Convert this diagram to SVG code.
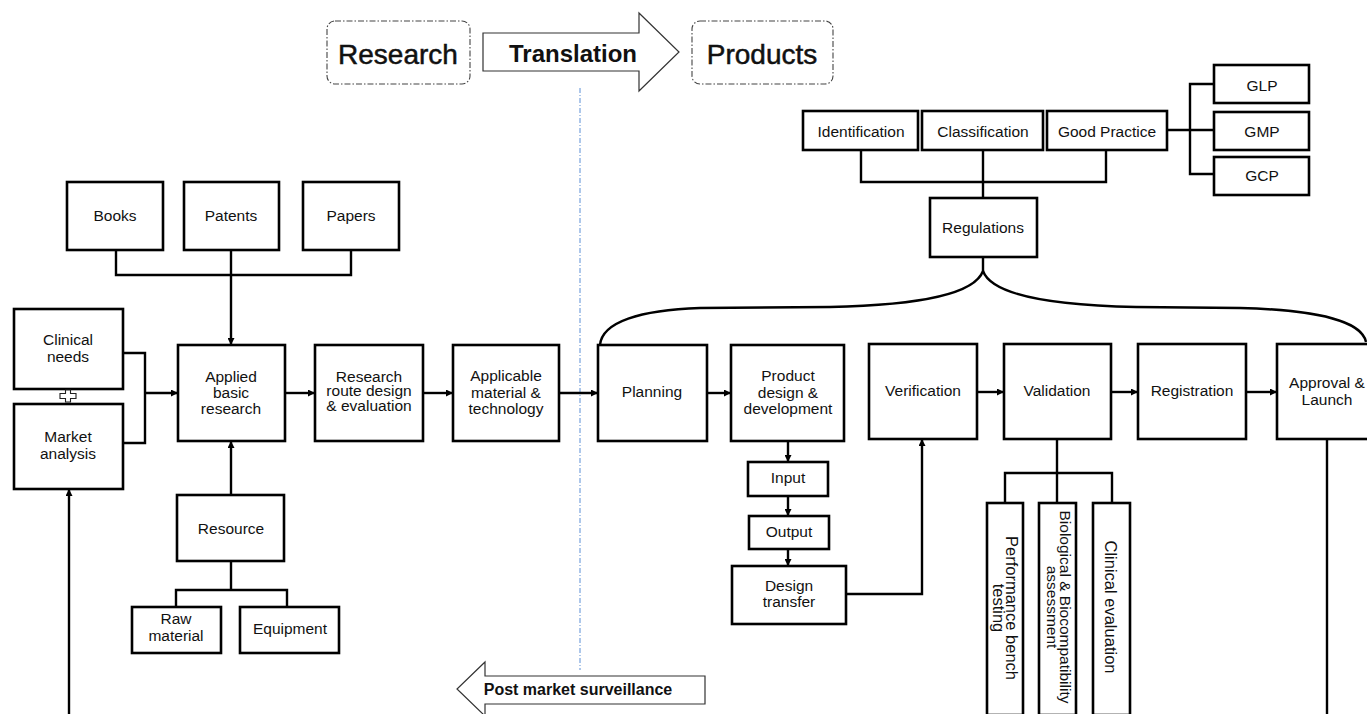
<svg xmlns="http://www.w3.org/2000/svg" width="1367" height="714" viewBox="0 0 1367 714">
<style>
.b{fill:#fff;stroke:#000;stroke-width:2.6}
.t{font-family:"Liberation Sans",Arial,sans-serif;font-size:15.5px;fill:#111;text-anchor:middle}
.tr{font-family:"Liberation Sans",Arial,sans-serif;font-size:16.5px;fill:#111;text-anchor:middle}
.c{fill:none;stroke:#000;stroke-width:2.4}
.hd{font-family:"Liberation Sans",Arial,sans-serif;font-size:28px;fill:#111;stroke:#111;stroke-width:0.5;text-anchor:middle}
.bold{font-family:"Liberation Sans",Arial,sans-serif;font-weight:bold;fill:#111;text-anchor:middle}
.dd{fill:#fff;stroke:#444;stroke-width:1.1;stroke-dasharray:6 2 1.5 2}
</style>
<defs>
<marker id="ah" viewBox="0 0 10 10" refX="10" refY="5" markerWidth="7" markerHeight="7" markerUnits="userSpaceOnUse" orient="auto">
<path d="M0,0 L10,5 L0,10 z" fill="#000"/>
</marker>
</defs>

<!-- header -->
<g id="research-hd"><rect class="dd" x="327" y="21" width="143" height="63" rx="8"/><text class="hd" x="398" y="64">Research</text></g>
<g id="translation"><path d="M483,33 H639 V13 L679,52 L639,91 V71 H483 Z" fill="#fff" stroke="#333" stroke-width="1.2"/><text class="bold" x="573" y="62" font-size="24">Translation</text></g>
<g id="products-hd"><rect class="dd" x="692" y="21" width="141" height="63" rx="8"/><text class="hd" x="762" y="64">Products</text></g>

<line x1="580" y1="88" x2="580" y2="670" stroke="#5b8fd6" stroke-width="1" stroke-dasharray="5 2 1 2"/>

<g id="post-market"><path d="M705,676 H485 V662 L457,689 L485,716 V704 H705 Z" fill="#fff" stroke="#333" stroke-width="1.2"/><text class="bold" x="578" y="695" font-size="16">Post market surveillance</text></g>

<!-- connectors -->
<g id="connectors">
<polyline class="c" points="116,250 116,275 351,275 351,250"/>
<line class="c" x1="231" y1="250" x2="231" y2="345" marker-end="url(#ah)"/>
<polyline class="c" points="123,353 145,353 145,443 123,443"/>
<line class="c" x1="145" y1="393" x2="178" y2="393" marker-end="url(#ah)"/>
<line class="c" x1="285" y1="393" x2="315" y2="393" marker-end="url(#ah)"/>
<line class="c" x1="423" y1="393" x2="453" y2="393" marker-end="url(#ah)"/>
<line class="c" x1="559" y1="393" x2="598" y2="393" marker-end="url(#ah)"/>
<line class="c" x1="231" y1="495" x2="231" y2="441" marker-end="url(#ah)"/>
<line class="c" x1="231" y1="561" x2="231" y2="590"/>
<polyline class="c" points="176,607 176,590 287,590 287,607"/>
<line class="c" x1="69" y1="714" x2="69" y2="489" marker-end="url(#ah)"/>
<line class="c" x1="707" y1="393" x2="731" y2="393" marker-end="url(#ah)"/>
<line class="c" x1="788" y1="441" x2="788" y2="462" marker-end="url(#ah)"/>
<line class="c" x1="788" y1="496" x2="788" y2="516" marker-end="url(#ah)"/>
<line class="c" x1="788" y1="549" x2="788" y2="566" marker-end="url(#ah)"/>
<polyline class="c" points="846,594 922,594 922,439" marker-end="url(#ah)"/>
<line class="c" x1="977" y1="392" x2="1004" y2="392" marker-end="url(#ah)"/>
<line class="c" x1="1111" y1="392" x2="1138" y2="392" marker-end="url(#ah)"/>
<line class="c" x1="1246" y1="392" x2="1277" y2="392" marker-end="url(#ah)"/>
<line class="c" x1="1057" y1="439" x2="1057" y2="503"/>
<polyline class="c" points="1005,503 1005,473 1112,473 1112,503"/>
<line class="c" x1="1327" y1="439" x2="1327" y2="714"/>
<polyline class="c" points="861,150 861,182 1106,182 1106,150"/>
<line class="c" x1="983" y1="150" x2="983" y2="198"/>
<line class="c" x1="1167" y1="130" x2="1214" y2="130"/>
<polyline class="c" points="1214,84 1190,84 1190,174 1214,174"/>
<path class="c" d="M983,257 V271 C975,293 925,305 830,307 L700,308 C640,310 602,322 600,345"/>
<path class="c" d="M983,271 C991,293 1041,305 1136,307 L1240,308 C1320,310 1362,322 1366,342"/>
</g>

<!-- left nodes -->
<g id="books"><rect class="b" x="67" y="182" width="96" height="68"/><text class="t" x="115" y="221">Books</text></g>
<g id="patents"><rect class="b" x="184" y="182" width="95" height="68"/><text class="t" x="231" y="221">Patents</text></g>
<g id="papers"><rect class="b" x="303" y="182" width="96" height="68"/><text class="t" x="351" y="221">Papers</text></g>
<g id="clinical-needs"><rect class="b" x="14" y="309" width="109" height="80"/><text class="t" x="68" y="345">Clinical</text><text class="t" x="68" y="362">needs</text></g>
<g id="plus"><path d="M65.5,390 H70.5 V393.5 H76 V398.5 H70.5 V402 H65.5 V398.5 H60 V393.5 H65.5 Z" fill="#fff" stroke="#222" stroke-width="1.1"/></g>
<g id="market-analysis"><rect class="b" x="14" y="404" width="109" height="85"/><text class="t" x="68" y="442">Market</text><text class="t" x="68" y="459">analysis</text></g>
<g id="applied-basic-research"><rect class="b" x="178" y="345" width="107" height="96"/><text class="t" x="231" y="382">Applied</text><text class="t" x="231" y="398">basic</text><text class="t" x="231" y="414">research</text></g>
<g id="research-route"><rect class="b" x="315" y="345" width="108" height="96"/><text class="t" x="369" y="381.5">Research</text><text class="t" x="369" y="396">route design</text><text class="t" x="369" y="410.5">&amp; evaluation</text></g>
<g id="applicable"><rect class="b" x="453" y="345" width="106" height="96"/><text class="t" x="506" y="381">Applicable</text><text class="t" x="506" y="397.5">material &amp;</text><text class="t" x="506" y="414">technology</text></g>
<g id="resource"><rect class="b" x="177" y="495" width="107" height="66"/><text class="t" x="231" y="534">Resource</text></g>
<g id="raw-material"><rect class="b" x="132" y="607" width="89" height="46"/><text class="t" font-size="14" x="176" y="623.5">Raw</text><text class="t" font-size="14" x="176" y="640.5">material</text></g>
<g id="equipment"><rect class="b" x="240" y="607" width="99" height="46"/><text class="t" x="290" y="634">Equipment</text></g>

<!-- right nodes -->
<g id="planning"><rect class="b" x="598" y="345" width="109" height="96"/><text class="t" x="652" y="397">Planning</text></g>
<g id="product-design"><rect class="b" x="731" y="345" width="113" height="96"/><text class="t" x="788" y="381">Product</text><text class="t" x="788" y="397.5">design &amp;</text><text class="t" x="788" y="414">development</text></g>
<g id="input"><rect class="b" x="748" y="462" width="80" height="34"/><text class="t" x="788" y="483">Input</text></g>
<g id="output"><rect class="b" x="749" y="516" width="80" height="33"/><text class="t" x="789" y="537">Output</text></g>
<g id="design-transfer"><rect class="b" x="732" y="566" width="114" height="58"/><text class="t" x="789" y="591">Design</text><text class="t" x="789" y="607">transfer</text></g>
<g id="verification"><rect class="b" x="869" y="344" width="108" height="95"/><text class="t" x="923" y="396">Verification</text></g>
<g id="validation"><rect class="b" x="1004" y="344" width="107" height="95"/><text class="t" x="1057" y="396">Validation</text></g>
<g id="registration"><rect class="b" x="1138" y="344" width="108" height="95"/><text class="t" x="1192" y="396">Registration</text></g>
<g id="approval"><rect class="b" x="1277" y="344" width="104" height="95"/><text class="t" x="1327" y="388">Approval &amp;</text><text class="t" x="1327" y="405">Launch</text></g>
<g id="performance"><rect class="b" x="987" y="503" width="36" height="212"/><g transform="translate(1005,608) rotate(90)"><text class="tr" x="0" y="-0.5">Performance bench</text><text class="tr" x="0" y="12">testing</text></g></g>
<g id="biological"><rect class="b" x="1039" y="503" width="37" height="212"/><g transform="translate(1057,607) rotate(90)"><text class="t" font-size="14.5" x="0" y="-3">Biological &amp; Biocompatibility</text><text class="t" font-size="14.5" x="0" y="10.5">assessment</text></g></g>
<g id="clinical-evaluation"><rect class="b" x="1093" y="503" width="37" height="212"/><g transform="translate(1111,607) rotate(90)"><text class="tr" x="0" y="6">Clinical evaluation</text></g></g>

<!-- regulations -->
<g id="identification"><rect class="b" x="803" y="111" width="115" height="39"/><text class="t" x="861" y="137">Identification</text></g>
<g id="classification"><rect class="b" x="922" y="111" width="121" height="39"/><text class="t" x="983" y="137">Classification</text></g>
<g id="good-practice"><rect class="b" x="1047" y="111" width="120" height="39"/><text class="t" x="1107" y="137">Good Practice</text></g>
<g id="glp"><rect class="b" x="1214" y="65" width="95" height="38"/><text class="t" x="1262" y="91">GLP</text></g>
<g id="gmp"><rect class="b" x="1214" y="112" width="95" height="38"/><text class="t" x="1262" y="137">GMP</text></g>
<g id="gcp"><rect class="b" x="1214" y="157" width="95" height="38"/><text class="t" x="1262" y="181">GCP</text></g>
<g id="regulations"><rect class="b" x="930" y="198" width="107" height="59"/><text class="t" x="983" y="233">Regulations</text></g>
</svg>
